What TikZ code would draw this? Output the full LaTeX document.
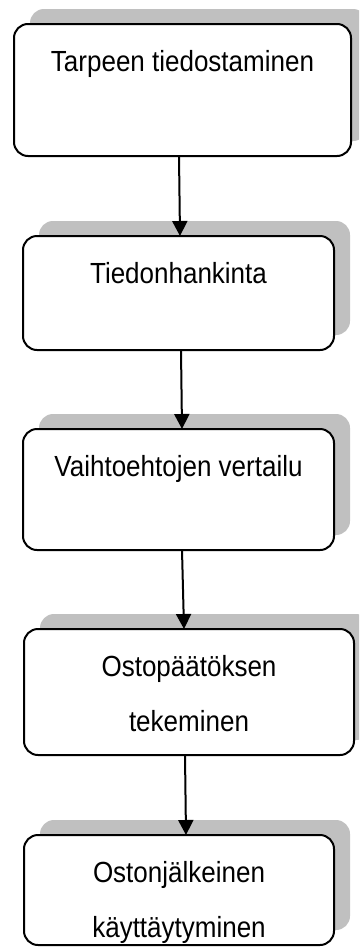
\documentclass[tikz,border=0pt]{standalone}
\usepackage{fontspec}
\usepackage{graphicx}
\setmainfont{Liberation Sans}
\usetikzlibrary{arrows.meta,shadows}
\definecolor{shadowgray}{HTML}{C0C0C0}
\newcommand{\tallt}[1]{\scalebox{1}[1.12]{#1}}
\newcommand{\boxtext}[3]{\parbox[t][#2][t]{#1}{\centering\fontsize{26}{55}\selectfont\rule{0pt}{47pt}#3\par}}
\tikzset{
  stepbox/.style={draw=black, line width=2pt, rounded corners=14pt, fill=white,
    inner sep=0pt, outer sep=0pt,
    general shadow={fill=shadowgray, shadow xshift=16pt, shadow yshift=15pt}},
  arr/.style={line width=2pt, -{Triangle[width=15pt,length=15pt]}}
}
\begin{document}
\begin{tikzpicture}[x=1pt,y=-1pt]
\useasboundingbox (0,0) rectangle (359,948);
\clip (0,0) rectangle (359,948);
\node[stepbox] (b1) at (182.5,90) {\boxtext{337pt}{132pt}{\tallt{Tarpeen tiedostaminen}}};
\node[stepbox] (b2) at (178.5,293) {\boxtext{311pt}{114pt}{\tallt{Tiedonhankinta}}};
\node[stepbox] (b3) at (178.5,489.5) {\boxtext{311pt}{121pt}{\tallt{Vaihtoehtojen vertailu}}};
\node[stepbox] (b4) at (189,692) {\boxtext{330pt}{126pt}{\tallt{Ostopäätöksen}\\\tallt{tekeminen}}};
\node[stepbox] (b5) at (179,890) {\boxtext{310pt}{110pt}{\tallt{Ostonjälkeinen}\\\tallt{käyttäytyminen}}};
\draw[arr] ([xshift=-3.5pt]b1.south) -- ([xshift=1.5pt]b2.north);
\draw[arr] ([xshift=2.5pt]b2.south) -- ([xshift=3.5pt]b3.north);
\draw[arr] ([xshift=3.5pt]b3.south) -- ([xshift=-5pt]b4.north);
\draw[arr] ([xshift=-4pt]b4.south) -- ([xshift=7pt]b5.north);
\end{tikzpicture}
\end{document}
